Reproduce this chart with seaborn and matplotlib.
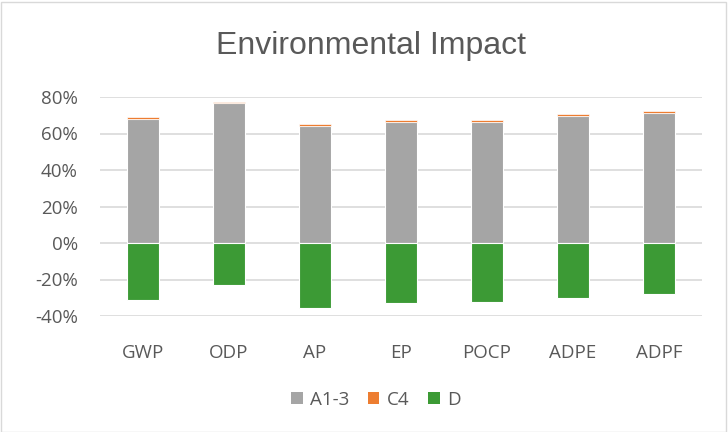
import matplotlib
matplotlib.use("Agg")
import matplotlib.pyplot as plt
import seaborn as sns
import pandas as pd
from matplotlib.patches import Rectangle, Patch
from matplotlib.ticker import FuncFormatter

categories = ["GWP", "ODP", "AP", "EP", "POCP", "ADPE", "ADPF"]
a13 = [0.679, 0.765, 0.641, 0.665, 0.665, 0.698, 0.714]
c4 = [0.009, 0.008, 0.010, 0.008, 0.009, 0.009, 0.009]
d = [-0.315, -0.231, -0.357, -0.330, -0.326, -0.299, -0.280]
series_names = ["A1-3", "C4", "D"]
colors = ["#A5A5A5", "#ED7D31", "#3C9A35"]

sns.set_theme(style="white")
plt.rcParams['font.family'] = ['Open Sans', 'DejaVu Sans']

df = pd.DataFrame({"cat": categories, "A13": a13, "C4": c4, "D": d})

fig = plt.figure(figsize=(7.28, 4.32), dpi=100)
ax = fig.add_axes([100/728, 1-316/432, (702-100)/728, (316-97)/432])

w = 0.37
sns.barplot(data=df, x="cat", y="A13", color=colors[0], width=w, ax=ax,
            edgecolor="white", linewidth=0.8, saturation=1, zorder=3)
sns.barplot(data=df, x="cat", y="C4", bottom=df["A13"], color=colors[1], width=w, ax=ax,
            edgecolor="white", linewidth=0.5, saturation=1, zorder=3)
sns.barplot(data=df, x="cat", y="D", color=colors[2], width=w, ax=ax,
            edgecolor="white", linewidth=0.8, saturation=1, zorder=3)

ax.set_ylim(-0.4, 0.8)
ax.set_xlim(-0.5, len(categories) - 0.5)
ax.set_yticks([-0.4, -0.2, 0, 0.2, 0.4, 0.6, 0.8])
ax.yaxis.set_major_formatter(FuncFormatter(lambda v, p: f"{v*100:.0f}%"))
ax.grid(axis="y", color="#D9D9D9", linewidth=1.2, zorder=0)
for s in ax.spines.values():
    s.set_visible(False)
ax.tick_params(axis="y", length=0, labelsize=13.5, labelcolor="#595959", pad=16)
ax.tick_params(axis="x", length=0, labelsize=13.5, labelcolor="#595959", pad=20)
ax.set_xlabel("")
ax.set_ylabel("")

fig.text(371/728, 1-46/432, "Environmental Impact", ha="center", va="center",
         fontsize=23, color="#595959", family=["Liberation Sans", "DejaVu Sans"])

handles = [Patch(facecolor=c, edgecolor="none") for c in colors]
fig.legend(handles, series_names, loc="center", bbox_to_anchor=(376/728, 1-400/432),
           ncol=3, frameon=False, fontsize=13.5, labelcolor="#595959",
           handlelength=0.6, handleheight=0.6, handletextpad=0.4, columnspacing=1.0)

fig.patches.append(Rectangle((0.5/728, 0.5/432), 1-3/728, 1-2/432, transform=fig.transFigure,
                             fill=False, edgecolor="#D9D9D9", linewidth=1))

fig.savefig("out.png", dpi=100, facecolor="white")
